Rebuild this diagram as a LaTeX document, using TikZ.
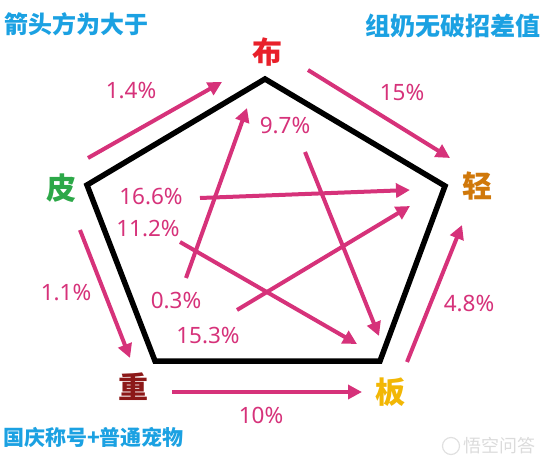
\documentclass[tikz,border=0pt]{standalone}
\usepackage{fontspec}
\setmainfont{Noto Sans}
\newfontfamily\cjk{Noto Sans CJK SC}
\usetikzlibrary{arrows.meta, positioning, calc}

\definecolor{arrowpink}{RGB}{214,50,122}
\definecolor{notered}{RGB}{232,32,42}
\definecolor{noteorange}{RGB}{208,120,10}
\definecolor{notegold}{RGB}{242,183,5}
\definecolor{notedark}{RGB}{140,24,24}
\definecolor{notegreen}{RGB}{44,168,72}
\definecolor{noteblue}{RGB}{27,161,226}

\begin{document}
\begin{tikzpicture}[
		x=1pt, y=-1pt,
		>={Triangle[length=14pt, width=14pt]},
		% Node Styles
		corner_label/.style={font=\cjk\bfseries\fontsize{30}{30}\selectfont, inner sep=0pt},
		pct/.style={text=arrowpink, font=\fontsize{22.5}{22.5}\selectfont, inner sep=0pt},
		note/.style={text=noteblue, inner sep=0pt, anchor=west},
		% Edge Styles
		win_edge/.style={->, draw=arrowpink, line width=4pt},
		frame/.style={draw=black, line width=5.5pt, line join=miter}
		]
		\useasboundingbox (0,0) rectangle (549,465);
		
		% --- 1. PENTAGON ---
		\coordinate (T) at (265,79);
		\coordinate (R) at (445,186);
		\coordinate (BR) at (380,361);
		\coordinate (BL) at (155,361);
		\coordinate (L) at (87,185);
		\draw[frame] (T) -- (R) -- (BR) -- (BL) -- (L) -- cycle;
		
		% --- 2. CORNER LABELS ---
		\node[corner_label, text=notered] (Bu) at (267,52) {布};
		\node[corner_label, text=noteorange] (Qing) at (477,186) {轻};
		\node[corner_label, text=notegold] (Ban) at (390,392) {板};
		\node[corner_label, text=notedark] (Zhong) at (133,387) {重};
		\node[corner_label, text=notegreen] (Pi) at (61,188) {皮};
		
		% --- 3. ARROW ENDS ---
		\coordinate (PiBu_s) at (88,158);    \coordinate (PiBu_e) at (222,82);
		\coordinate (BuQing_s) at (308,70);  \coordinate (BuQing_e) at (450,158);
		\coordinate (BanQing_s) at (407,362); \coordinate (BanQing_e) at (462,225);
		\coordinate (ZhongBan_s) at (172,392); \coordinate (ZhongBan_e) at (362,392);
		\coordinate (PiZhong_s) at (80,230);  \coordinate (PiZhong_e) at (130,358);
		
		\coordinate (ZhongBu_s) at (186,278); \coordinate (ZhongBu_e) at (247,108);
		\coordinate (BuBan_s) at (305,152);   \coordinate (BuBan_e) at (379,336);
		\coordinate (PiQing_s) at (200,198);  \coordinate (PiQing_e) at (410,190);
		\coordinate (PiBan_s) at (180,242);   \coordinate (PiBan_e) at (357,344);
		\coordinate (ZhongQing_s) at (237,310); \coordinate (ZhongQing_e) at (410,206);
		
		% ================= ARROWS =================
		% Outer edges
		\draw[win_edge] (PiBu_s) -- (PiBu_e);
		\draw[win_edge] (BuQing_s) -- (BuQing_e);
		\draw[win_edge] (BanQing_s) -- (BanQing_e);
		\draw[win_edge] (ZhongBan_s) -- (ZhongBan_e);
		\draw[win_edge] (PiZhong_s) -- (PiZhong_e);
		
		% Inner star
		\draw[win_edge] (ZhongBu_s) -- (ZhongBu_e);
		\draw[win_edge] (BuBan_s) -- (BuBan_e);
		\draw[win_edge] (PiQing_s) -- (PiQing_e);
		\draw[win_edge] (PiBan_s) -- (PiBan_e);
		\draw[win_edge] (ZhongQing_s) -- (ZhongQing_e);
		
		% --- Percentages ---
		\node[pct] (lPiBu) at (131,91) {1.4\%};
		\node[pct] (lBuQing) at (402,92) {15\%};
		\node[pct] (lBanQing) at (469,304) {4.8\%};
		\node[pct] (lZhongBan) at (261,415) {10\%};
		\node[pct] (lPiZhong) at (66,293) {1.1\%};
		\node[pct] (lBuBan) at (285,126) {9.7\%};
		\node[pct] (lPiQing) at (151,197) {16.6\%};
		\node[pct] (lPiBan) at (148,229) {11.2\%};
		\node[pct] (lZhongBu) at (176,301) {0.3\%};
		\node[pct] (lZhongQing) at (208,336) {15.3\%};
		
		% ================= NOTES =================
		\node[note, font=\cjk\bfseries\fontsize{24}{24}\selectfont] (noteArrow) at (4,24) {箭头方为大于};
		\node[note, font=\cjk\bfseries\fontsize{25}{25}\selectfont] (noteGap) at (365,26) {组奶无破招差值};
		\node[note, font=\cjk\bfseries\fontsize{21}{21}\selectfont] (noteBase) at (3,437) {国庆称号+普通宠物};
		
		% watermark
		\node[draw=black!12, line width=1.2pt, circle, minimum size=17pt, inner sep=0pt] (wmLogo) at (451,446) {};
		\node[text=black!14, anchor=west, inner sep=0pt, font=\cjk\fontsize{18}{18}\selectfont, right=3pt of wmLogo] (wmText) {悟空问答};
		
	\end{tikzpicture}
\end{document}
